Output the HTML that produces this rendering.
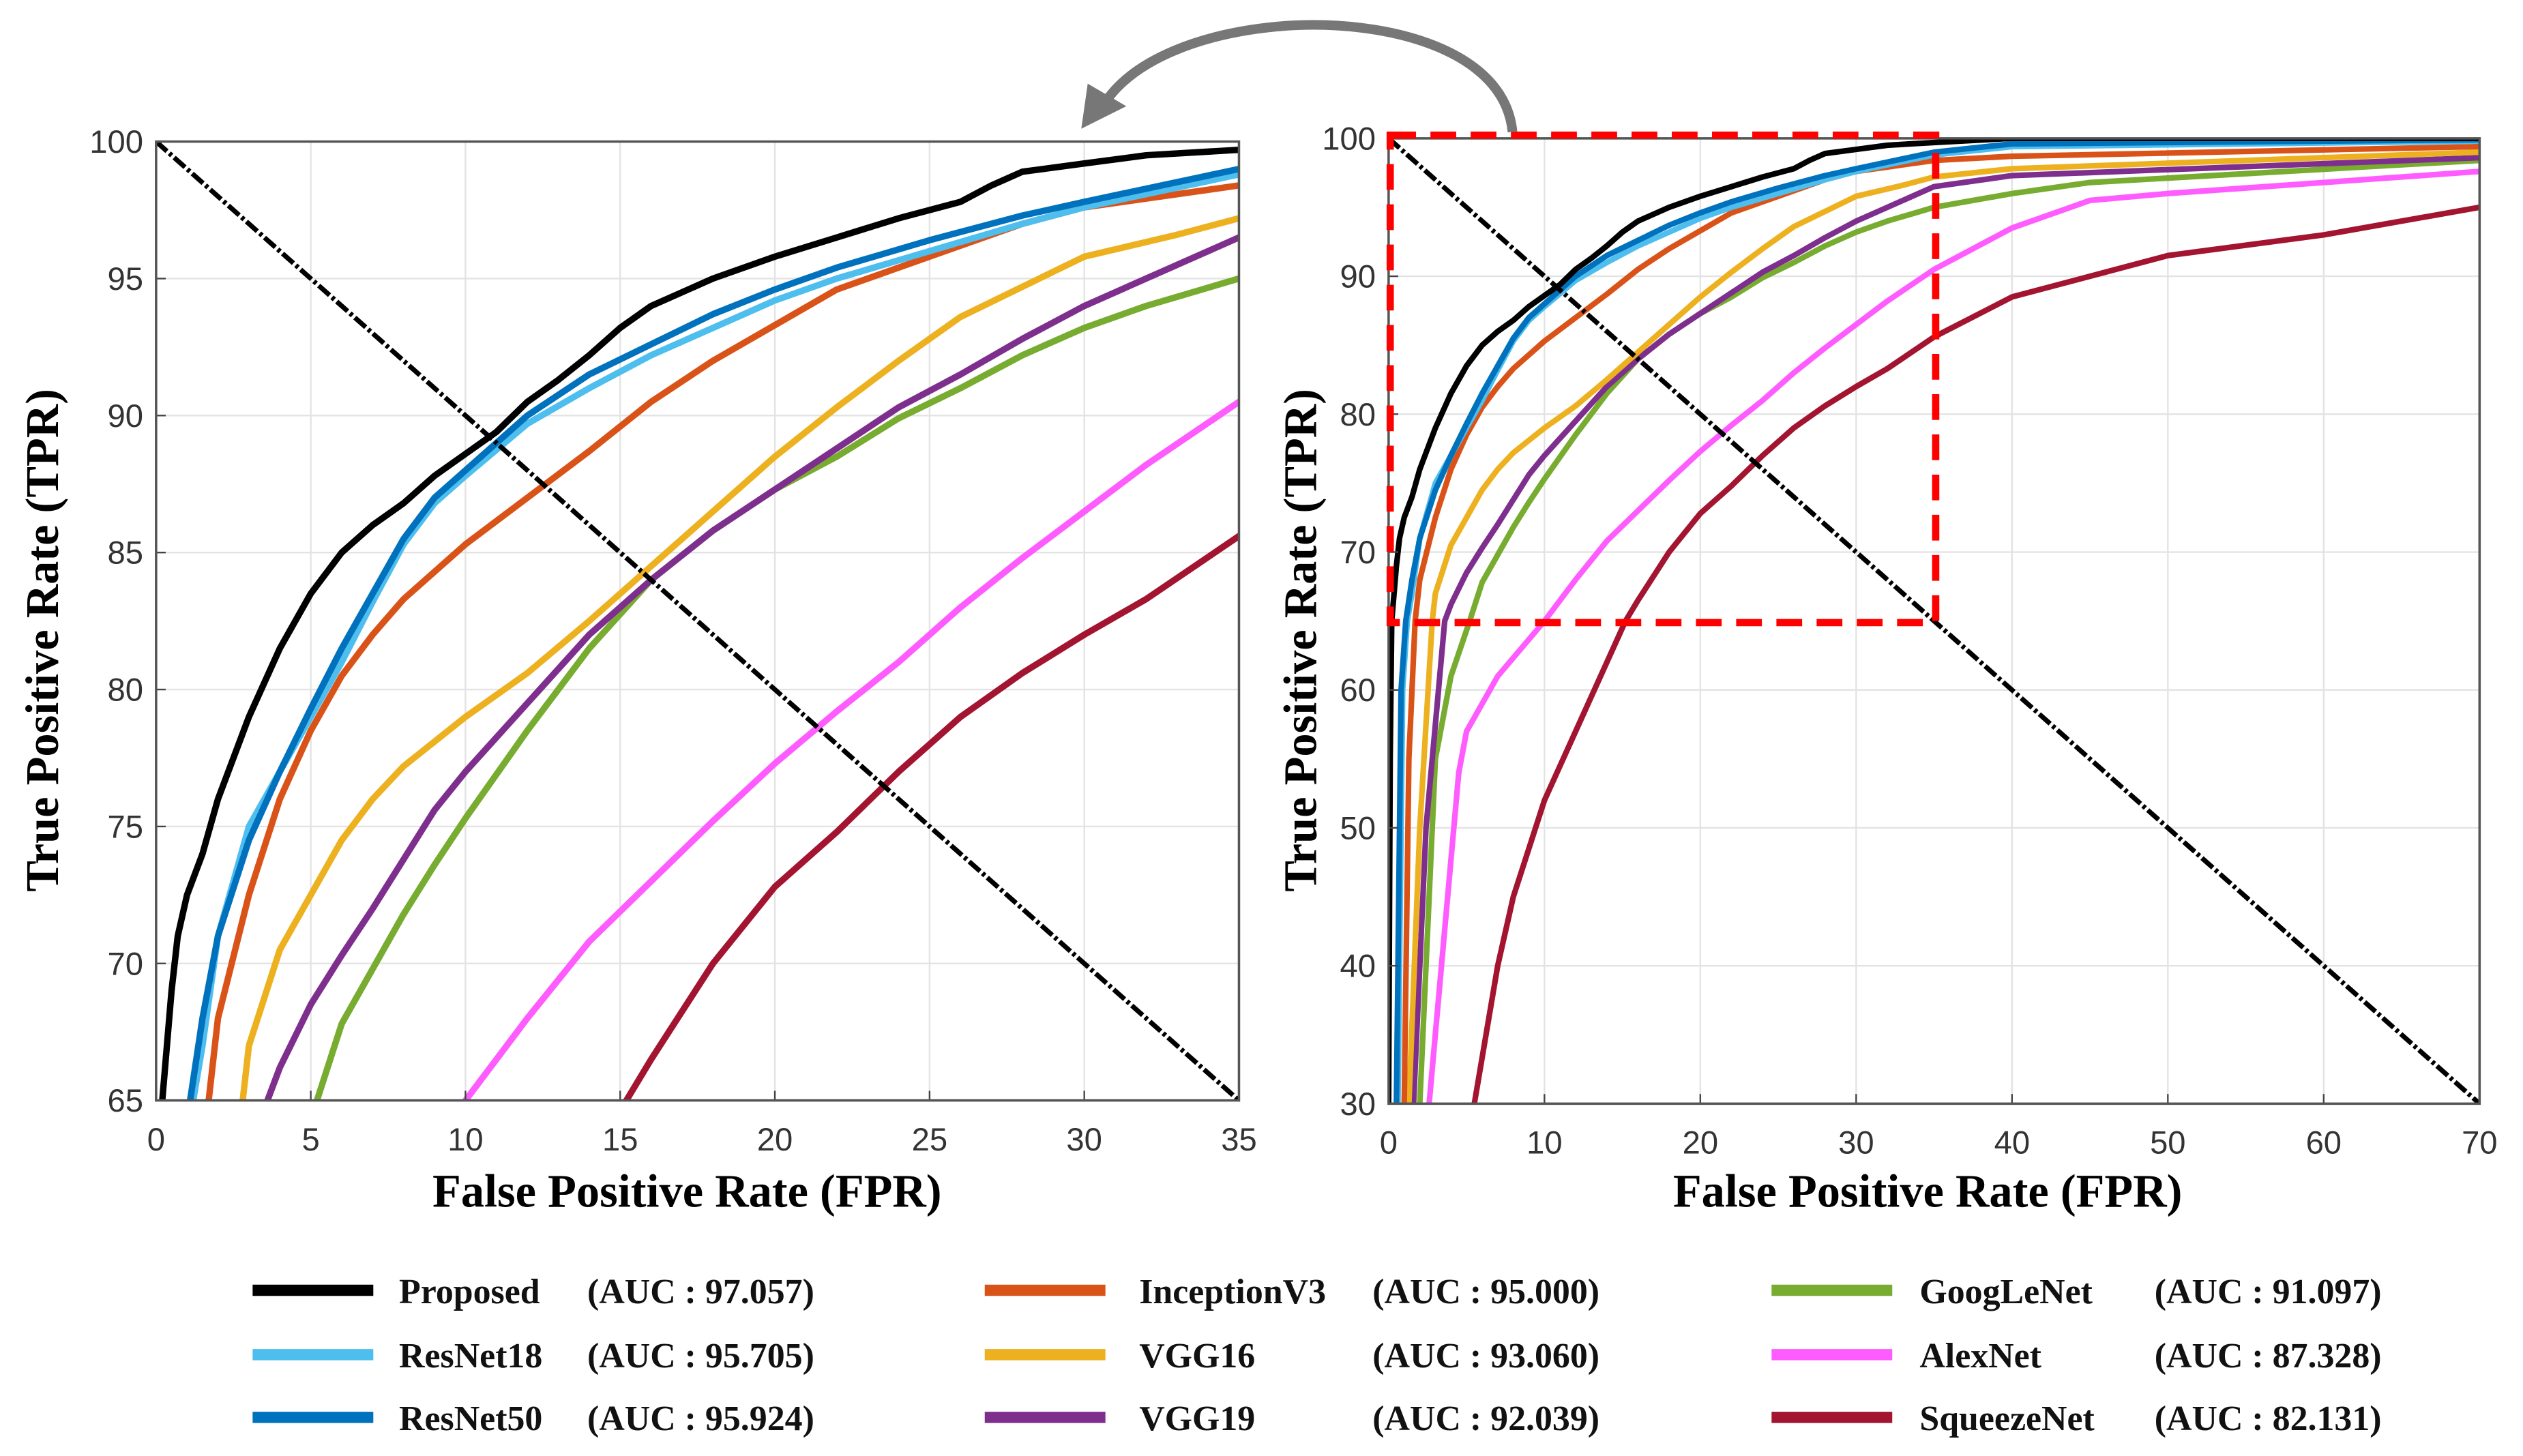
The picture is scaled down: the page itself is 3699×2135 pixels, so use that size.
<!DOCTYPE html>
<html><head><meta charset="utf-8"><style>
html,body{margin:0;padding:0;background:#fff;width:3699px;height:2135px;overflow:hidden;}
svg{display:block;}
.tick{font-family:"Liberation Sans",Arial,sans-serif;font-size:20px;fill:#333;}
.title{font-family:"Liberation Serif",serif;font-weight:bold;font-size:29px;fill:#000;}
.leg{font-family:"Liberation Serif",serif;font-weight:bold;font-size:22px;fill:#111;}
</style></head><body>
<svg id="fig" width="3699" height="2135" viewBox="0 0 1568 905" preserveAspectRatio="none" xmlns="http://www.w3.org/2000/svg">
<defs>
<clipPath id="clipL"><rect x="97" y="88" width="673" height="596"/></clipPath>
<clipPath id="clipR"><rect x="863" y="86" width="678" height="600"/></clipPath>
</defs>
<g id="gridL"></g>
<g id="gridR"></g>
<g id="seriesL" clip-path="url(#clipL)"></g>
<g id="seriesR" clip-path="url(#clipR)"></g>
<g id="axesL"></g>
<g id="axesR"></g>
<rect x="864" y="84" width="339" height="303" fill="none" stroke="#ff0000" stroke-width="4.5" stroke-dasharray="16,9"/>
<path d="M940,82 C935,30 860,12 800,16 C745,20 705,38 688,62" fill="none" stroke="#777" stroke-width="6"/>
<polygon points="672,80 676,52 700,66" fill="#777"/>
<text class="title" transform="translate(36,398) rotate(-90)" text-anchor="middle">True Positive Rate (TPR)</text>
<text class="title" x="427" y="750" text-anchor="middle">False Positive Rate (FPR)</text>
<text class="title" transform="translate(818,398) rotate(-90)" text-anchor="middle">True Positive Rate (TPR)</text>
<text class="title" x="1198" y="750" text-anchor="middle">False Positive Rate (FPR)</text>
<g id="legend"></g>
</svg>
<script>
const names = ["Proposed","ResNet18","ResNet50","InceptionV3","VGG16","VGG19","GoogLeNet","AlexNet","SqueezeNet"];
const aucs = ["97.057","95.705","95.924","95.000","93.060","92.039","91.097","87.328","82.131"];
const colors = ["#000000","#4DBEEE","#0072BD","#D95319","#EDB120","#7E2F8E","#77AC30","#FF5CFF","#A2142F"];
const proposed = [[0,30],[0.1,55],[0.2,65],[0.5,69],[0.7,71],[1,72.5],[1.5,74],[2,76],[3,79],[4,81.5],[5,83.5],[6,85],[7,86],[8,86.8],[9,87.8],[10,88.6],[11,89.4],[12,90.5],[13,91.3],[14,92.2],[15,93.2],[16,94],[18,95],[20,95.8],[22,96.5],[24,97.2],[26,97.8],[27,98.4],[28,98.9],[30,99.2],[32,99.5],[35,99.7],[40,100],[70,100]];
const resnet18 = [[0.6,30],[0.9,60],[1.2,65],[1.5,67],[2,71],[3,75],[4,77],[5,79],[6,81],[7,83.2],[8,85.3],[9,86.8],[10,87.8],[12,89.7],[14,91],[16,92.2],[18,93.2],[20,94.2],[22,95],[25,96],[28,97],[30,97.6],[35,98.8],[40,99.4],[70,99.8]];
const resnet50 = [[0.5,30],[0.8,60],[1.1,65],[1.5,68],[2,71],[3,74.5],[4,77],[5,79.3],[6,81.5],[7,83.5],[8,85.5],[9,87],[10,88],[12,90],[14,91.5],[16,92.6],[18,93.7],[20,94.6],[22,95.4],[25,96.4],[28,97.3],[30,97.8],[35,99],[40,99.6],[70,99.9]];
const inception = [[1,30],[1.3,55],[1.7,65],[2,68],[3,72.5],[4,76],[5,78.5],[6,80.5],[7,82],[8,83.3],[10,85.3],[12,87],[14,88.7],[16,90.5],[18,92],[20,93.3],[22,94.6],[25,95.8],[28,97],[30,97.6],[35,98.4],[40,98.7],[70,99.4]];
const vgg16 = [[1.3,30],[2,50],[2.8,65],[3,67],[4,70.5],[5,72.5],[6,74.5],[7,76],[8,77.2],[10,79],[12,80.6],[14,82.5],[16,84.5],[18,86.5],[20,88.5],[22,90.3],[24,92],[26,93.6],[28,94.7],[30,95.8],[33,96.6],[35,97.2],[40,97.8],[70,99]];
const vgg19 = [[1.6,30],[2.4,50],[3.6,65],[4,66.2],[5,68.5],[6,70.3],[7,72],[8,73.8],[9,75.6],[10,77],[12,79.5],[14,82],[16,84],[18,85.8],[20,87.3],[22,88.8],[24,90.3],[26,91.5],[28,92.8],[30,94],[32,95],[35,96.5],[40,97.3],[70,98.6]];
const googlenet = [[2,30],[3,55],[4,61],[5.2,65],[6,67.8],[7,69.8],[8,71.8],[9,73.6],[10,75.3],[12,78.5],[14,81.5],[16,84],[18,85.8],[20,87.3],[22,88.5],[24,89.9],[26,91],[28,92.2],[30,93.2],[32,94],[35,95],[40,96],[45,96.8],[70,98.4]];
const alexnet = [[2.6,30],[4.5,54],[5,57],[7,61],[10,65],[12,68],[14,70.8],[16,73],[18,75.2],[20,77.3],[22,79.2],[24,81],[26,83],[28,84.8],[30,86.5],[32,88.2],[35,90.5],[40,93.5],[45,95.5],[50,96],[60,96.8],[70,97.6]];
const squeezenet = [[5.5,30],[7,40],[8,45],[10,52],[12,57],[14,62],[15.2,65],[16,66.5],[18,70],[20,72.8],[22,74.8],[24,77],[26,79],[28,80.6],[30,82],[32,83.3],[35,85.6],[40,88.5],[45,90],[50,91.5],[60,93],[70,95]];
const series = [proposed,resnet18,resnet50,inception,vgg16,vgg19,googlenet,alexnet,squeezenet];
const drawOrder = [8,7,6,5,4,3,1,2,0];
const leftXTicks = [0,5,10,15,20,25,30,35];
const leftYTicks = [65,70,75,80,85,90,95,100];
const rightXTicks = [0,10,20,30,40,50,60,70];
const rightYTicks = [30,40,50,60,70,80,90,100];

const NS="http://www.w3.org/2000/svg";
function mk(tag, attrs, parent){const e=document.createElementNS(NS,tag);for(const k in attrs)e.setAttribute(k,attrs[k]);parent.appendChild(e);return e;}
function axis(d0,d1,r0,r1){return v=>r0+(v-d0)/(d1-d0)*(r1-r0);}

function panel(side, xs, ys, xT, yT, lw){
  const grid=document.getElementById('grid'+side), ser=document.getElementById('series'+side), ax=document.getElementById('axes'+side);
  const x0=xs(xT[0]), x1=xs(xT[xT.length-1]), y0=ys(yT[0]), y1=ys(yT[yT.length-1]);
  xT.forEach(t=>{
    const gl=mk('line',{x1:xs(t),x2:xs(t),y1:y1,y2:y0,stroke:'#e3e3e3','stroke-width':1},grid);
    
    
    const tk=mk('line',{x1:xs(t),x2:xs(t),y1:y0,y2:y0-6,stroke:'#444','stroke-width':1},ax);
    
    
    const tx=mk('text',{x:xs(t),y:y0+31,'text-anchor':'middle',class:'tick'},ax);
    tx.textContent=t;
    
    
  });
  yT.forEach(t=>{
    const gl=mk('line',{x1:x0,x2:x1,y1:ys(t),y2:ys(t),stroke:'#e3e3e3','stroke-width':1},grid);
    
    
    const tk=mk('line',{x1:x0,x2:x0+6,y1:ys(t),y2:ys(t),stroke:'#444','stroke-width':1},ax);
    
    
    const tx=mk('text',{x:x0-8,y:ys(t)+7,'text-anchor':'end',class:'tick'},ax);
    tx.textContent=t;
    
    
  });
  const box=mk('rect',{x:x0,y:y1,width:x1-x0,height:y0-y1,fill:'none',stroke:'#555','stroke-width':1.5},ax);
  
  
  drawOrder.forEach(i=>{
    const pts=series[i].map(p=>xs(p[0]).toFixed(2)+','+ys(p[1]).toFixed(2)).join(' ');
    const pl=mk('polyline',{points:pts,fill:'none',stroke:colors[i],'stroke-width':lw,'stroke-linejoin':'round'},ser);
    
    
  });
  const dg=mk('line',{x1:xs(xT[0]),y1:ys(yT[yT.length-1]),x2:xs(xT[xT.length-1]),y2:ys(yT[0]),stroke:'#000','stroke-width':3,'stroke-dasharray':'9,2,2,2'},ser);
  
  
}
panel('L', axis(0,35,97,770), axis(65,100,684,88), leftXTicks, leftYTicks, 4);
panel('R', axis(0,70,863,1541), axis(30,100,686,86), rightXTicks, rightYTicks, 3.5);

const leg=document.getElementById('legend');
const colLineX=[157,612,1101], colNameX=[248,708,1193], colAucX=[365,853,1339], rowY=[802,842,881];
names.forEach((n,i)=>{
  const c=Math.floor(i/3), r=i%3;
  const ln=mk('line',{x1:colLineX[c],x2:colLineX[c]+75,y1:rowY[r],y2:rowY[r],stroke:colors[i],'stroke-width':7},leg);
  
  
  const t1=mk('text',{x:colNameX[c],y:rowY[r]+8,class:'leg'},leg);
  t1.textContent=n;
  
  
  const t2=mk('text',{x:colAucX[c],y:rowY[r]+8,class:'leg'},leg);
  t2.textContent='(AUC : '+aucs[i]+')';
  
  
});
</script>
</body></html>
